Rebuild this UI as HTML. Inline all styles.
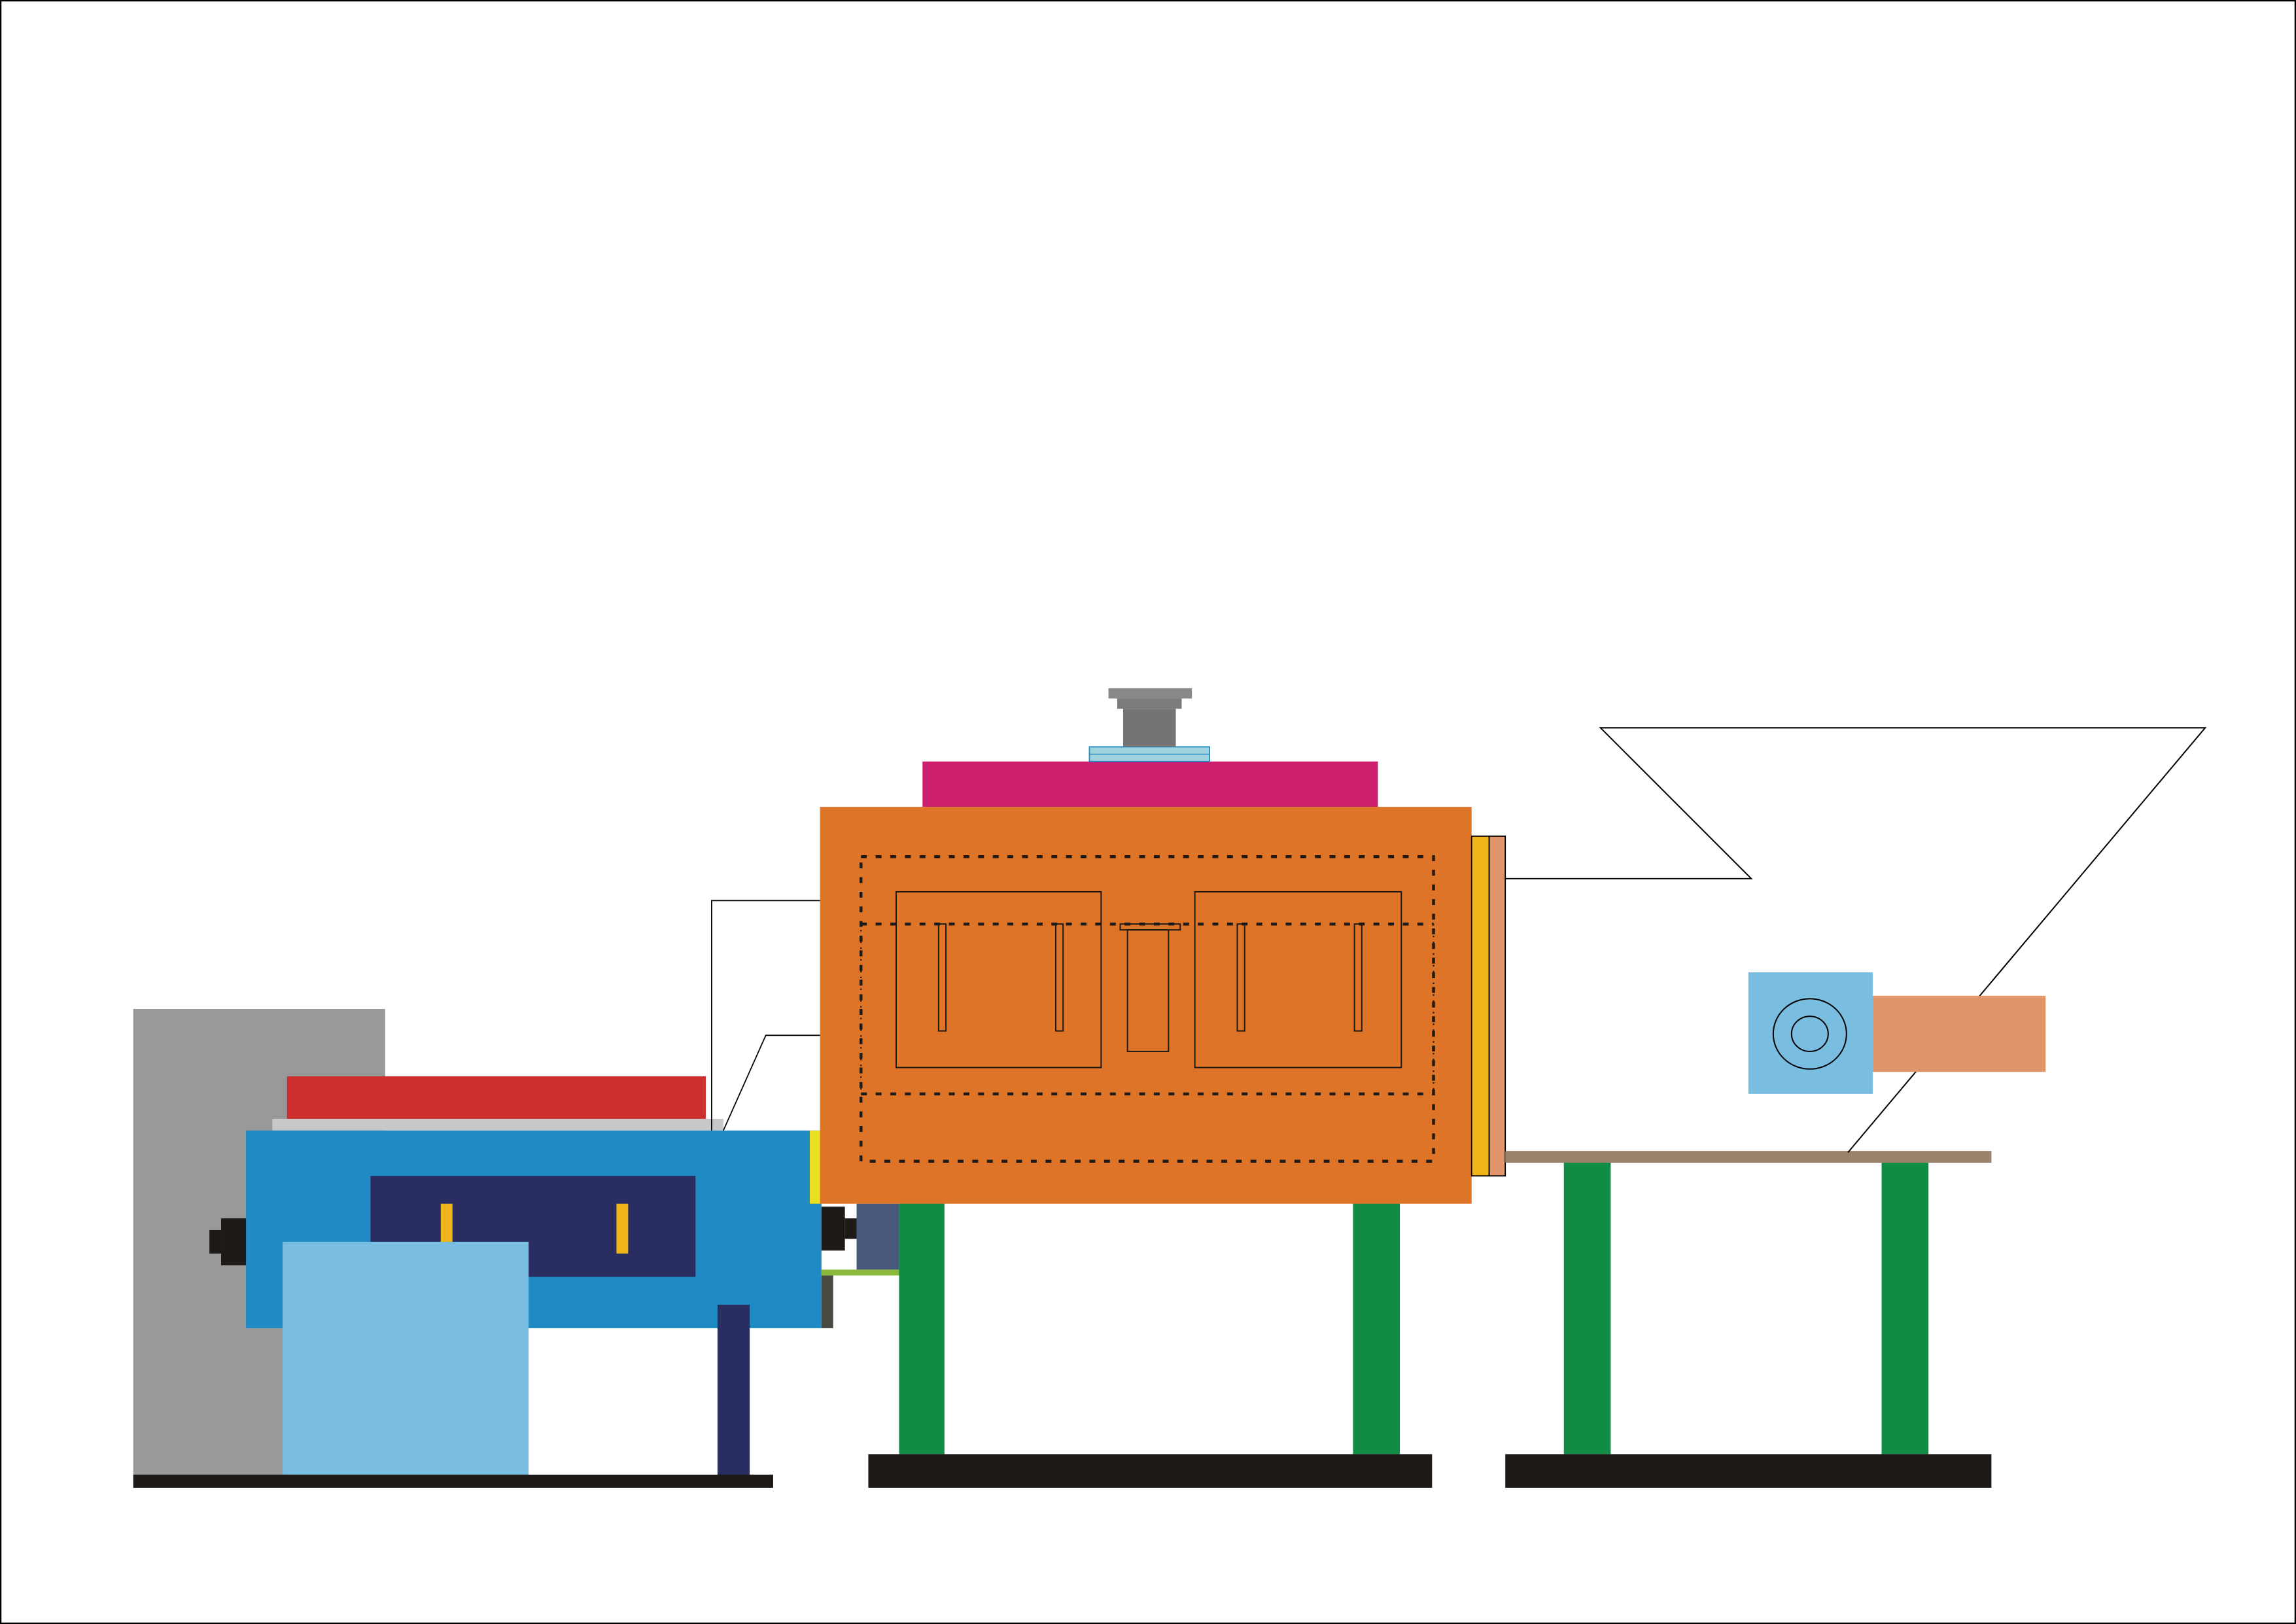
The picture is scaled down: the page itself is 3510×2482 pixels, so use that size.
<!DOCTYPE html>
<html><head><meta charset="utf-8"><style>html,body{margin:0;padding:0;background:#fff}svg{display:block}</style></head>
<body>
<svg width="3510" height="2482" viewBox="0 0 1568 1109" xmlns="http://www.w3.org/2000/svg" preserveAspectRatio="none">
<rect x="0.5" y="0.5" width="1567" height="1108" fill="#fff" stroke="#000" stroke-width="1"/>
<!-- left machine -->
<rect x="91" y="689" width="172" height="321" fill="#999"/>
<rect x="196" y="735" width="286" height="30" fill="#cc2f2e"/>
<rect x="186" y="764" width="308" height="8" fill="#c8c8c8"/>
<rect x="168" y="772" width="393" height="135" fill="#1f8ac4"/>
<rect x="253" y="803" width="222" height="69" fill="#2a2d62"/>
<rect x="301" y="822" width="8" height="34" fill="#f0b51a"/>
<rect x="421" y="822" width="8" height="34" fill="#f0b51a"/>
<rect x="193" y="848" width="168" height="160" fill="#79bde0"/>
<rect x="151" y="832" width="17" height="32" fill="#1e1a17"/>
<rect x="143" y="840" width="8" height="16" fill="#1e1a17"/>
<rect x="490" y="891" width="22" height="117" fill="#2a2d62"/>
<rect x="91" y="1007" width="437" height="9" fill="#1e1a17"/>
<rect x="553" y="772" width="8" height="50" fill="#e8e020"/>
<rect x="561" y="824" width="16" height="30" fill="#1e1a17"/>
<rect x="577" y="832" width="8" height="14" fill="#1e1a17"/>
<rect x="585" y="822" width="29" height="45" fill="#48587a"/>
<rect x="561" y="867" width="53" height="4" fill="#8ab83a"/>
<rect x="561" y="871" width="8" height="36" fill="#4a4a44"/>
<polyline points="560,615 486,615 486,772" fill="none" stroke="#000" stroke-width="0.8"/>
<polyline points="560,707 523,707 494,772" fill="none" stroke="#000" stroke-width="0.8"/>
<!-- legs -->
<rect x="614" y="820" width="31" height="173" fill="#118c45"/>
<rect x="924" y="820" width="32" height="173" fill="#118c45"/>
<rect x="1068" y="792" width="32" height="201" fill="#118c45"/>
<rect x="1285" y="792" width="32" height="201" fill="#118c45"/>
<rect x="593" y="993" width="385" height="23" fill="#1e1a17"/>
<rect x="1028" y="993" width="332" height="23" fill="#1e1a17"/>
<!-- main body -->
<rect x="560" y="551" width="445" height="271" fill="#de7428"/>
<rect x="630" y="520" width="311" height="31" fill="#cc1f6e"/>
<rect x="744" y="510" width="82" height="10" fill="#9fd3de" stroke="#1f8ac4" stroke-width="0.8"/>
<line x1="744" y1="515" x2="826" y2="515" stroke="#1f8ac4" stroke-width="0.6"/>
<rect x="767" y="484" width="36" height="26" fill="#747474"/>
<rect x="763" y="477" width="44" height="7" fill="#7c7c7c"/>
<rect x="757" y="470" width="57" height="7" fill="#888"/>
<g fill="none" stroke="#1e1a17" stroke-width="2" stroke-dasharray="4,6">
<rect x="588" y="585" width="391" height="208"/>
<line x1="588" y1="631" x2="979" y2="631"/>
<line x1="588" y1="747" x2="979" y2="747"/>
</g>
<g fill="none" stroke="#1e1a17" stroke-width="1" stroke-dasharray="1,3">
<line x1="588" y1="631" x2="588" y2="747"/>
<line x1="979" y1="631" x2="979" y2="747"/>
</g>
<g fill="none" stroke="#1e1a17" stroke-width="0.9">
<rect x="612" y="609" width="140" height="120"/>
<rect x="816" y="609" width="141" height="120"/>
<rect x="641" y="631" width="5" height="73"/>
<rect x="721" y="631" width="5" height="73"/>
<rect x="845" y="631" width="5" height="73"/>
<rect x="925" y="631" width="5" height="73"/>
<rect x="770" y="635" width="28" height="83"/>
<rect x="765" y="631" width="41" height="4"/>
</g>
<rect x="1005" y="571" width="12" height="232" fill="#f0b51a" stroke="#000" stroke-width="0.8"/>
<rect x="1017" y="571" width="11" height="232" fill="#e0956a" stroke="#000" stroke-width="0.8"/>
<!-- right -->
<rect x="1028" y="786" width="332" height="8" fill="#99826a"/>
<polyline points="1028,600 1196,600 1093,497 1506,497 1262,787" fill="none" stroke="#000" stroke-width="0.9"/>
<rect x="1194" y="664" width="85" height="83" fill="#79bde0"/>
<ellipse cx="1236" cy="706" rx="25" ry="24" fill="none" stroke="#000" stroke-width="0.9"/>
<ellipse cx="1236" cy="706" rx="12.5" ry="12" fill="none" stroke="#000" stroke-width="0.9"/>
<rect x="1279" y="680" width="118" height="52" fill="#e0956a"/>
<line x1="1351" y1="680" x2="1397" y2="626" stroke="#000" stroke-width="0" />
</svg>
</body></html>
